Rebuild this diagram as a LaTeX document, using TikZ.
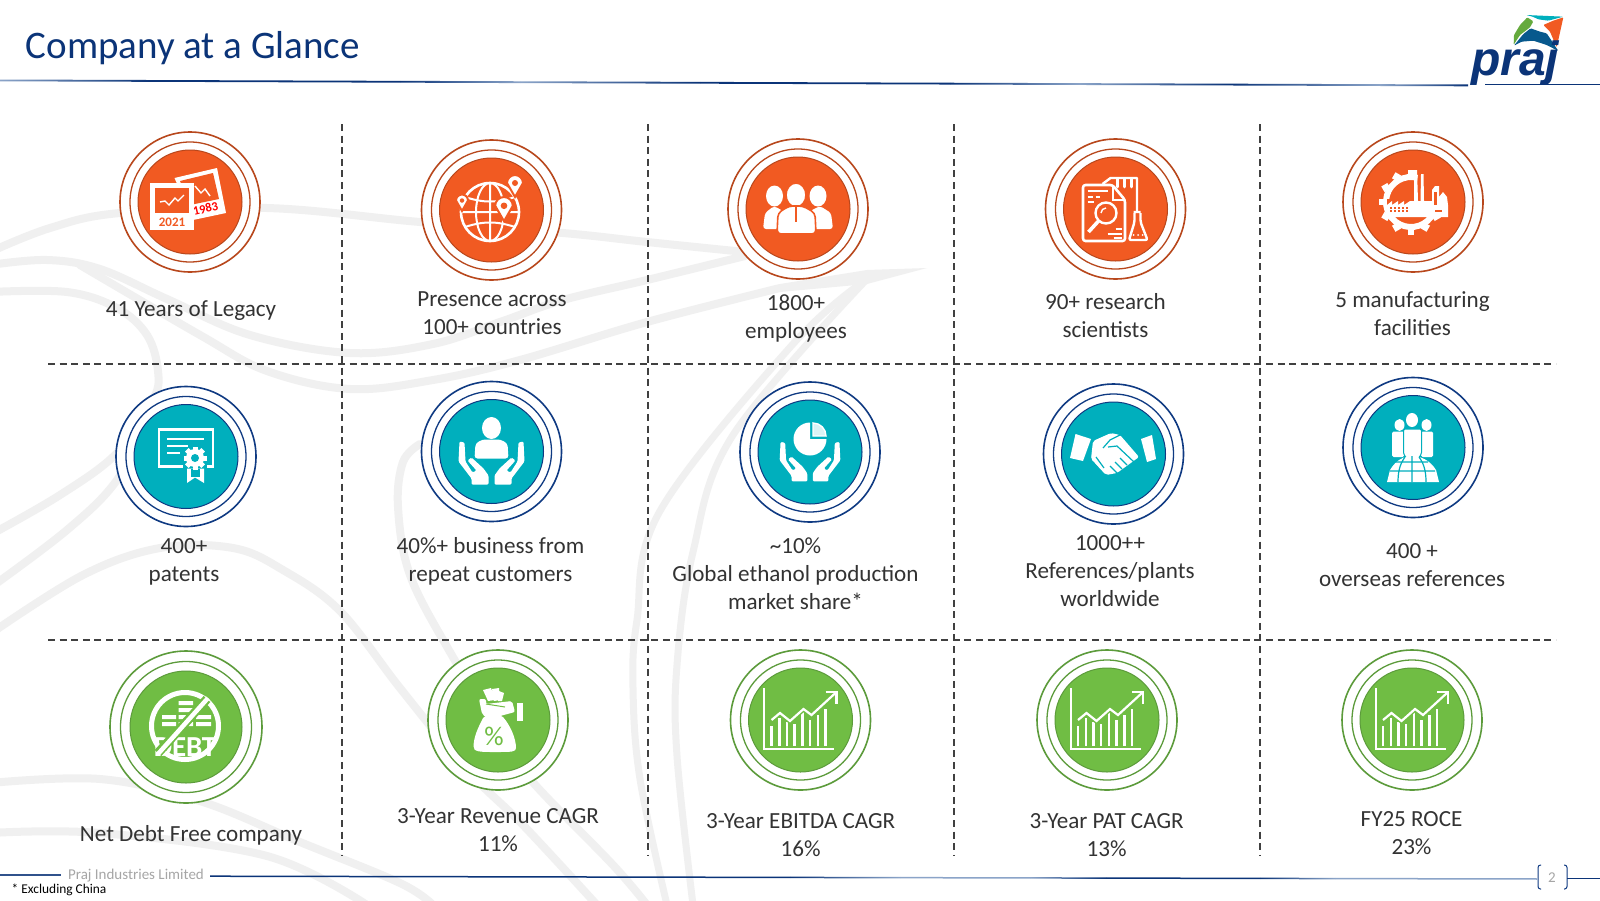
\documentclass[tikz,border=0pt]{standalone}
\usepackage{fontspec}
\setmainfont{Carlito}
\newfontfamily\logofont{Liberation Sans}
\definecolor{orD}{HTML}{F15A22}\definecolor{orL}{HTML}{B8471C}
\definecolor{teD}{HTML}{00AFBD}\definecolor{teL}{HTML}{0F3A82}
\definecolor{grD}{HTML}{70BD44}\definecolor{grL}{HTML}{5C9B3B}
\definecolor{wm}{HTML}{F0F0F0}\definecolor{dashc}{HTML}{404040}
\definecolor{navy}{HTML}{0B3478}\definecolor{lnL}{HTML}{8BA4C8}
\definecolor{txt}{HTML}{333333}\definecolor{gr}{HTML}{A6A6A6}
\tikzset{
  wmline/.style={draw=wm,line width=8pt,line cap=round},
  griddash/.style={draw=dashc,line width=1.5pt,dash pattern=on 7pt off 4.6pt},
  lbl/.style={anchor=base,align=center,text=txt,inner sep=0pt,font=\fontsize{23.1}{27.9}\selectfont},
  ringO/.style={circle,inner sep=0pt,fill=white,line width=1.6pt},
  ringI/.style={circle,inner sep=0pt,line width=1.3pt},
  disc/.style={circle,inner sep=0pt,line width=1pt},
}
\newcommand{\badge}[9]{% name x y R r d fill line body
  \node[ringO,draw=#8,minimum size=#4*2pt] (#1o) at (#2,#3) {};
  \node[ringI,draw=#8,minimum size=#5*2pt] (#1i) at (#2,#3) {};
  \node[disc,draw=#8,fill=#7,minimum size=#6*2pt] (#1d) at (#2,#3) {};#9}
\newcommand{\handR}{\fill[white,rounded corners=1.2pt] (27,-9)--(32,-10)--(33,10)--(20,27)--(20,33)--(3,33)--(3,24)--(8,17)--(20,6)--(24,9)--(15,19)--(19,21)--(26,10)--cycle;}
\newcommand{\charticon}[2]{\begin{scope}[shift={(#1,#2)}]
  \draw[white,line width=2pt] (-36.5,-32)--(-36.5,29)--(33.5,29);
  \foreach \bx/\by in {-29/6,-21/-2,-13.5/2,-6/4,2/-9,9.5/0,17.5/-5,25/-11}{\draw[white,line width=2.4pt] (\bx,26)--(\bx,\by);}
  \draw[grD,line width=5pt] (-29,0)--(-20.5,-7)--(-10.5,1)--(3,-11)--(11,-5)--(35,-27);
  \draw[white,line width=2.2pt] (-29,0)--(-20.5,-7)--(-10.5,1)--(3,-11)--(11,-5)--(36,-28);
  \draw[white,line width=2.2pt] (25,-28)--(36,-28)--(36,-16);
\end{scope}}
\begin{document}
\begin{tikzpicture}[x=1pt,y=-1pt]
\useasboundingbox (0,0) rectangle (1600,900);
\fill[white] (0,0) rectangle (1600,900);
% watermark
\draw[wmline] plot[smooth,tension=.6] coordinates {(-10,252)(50,228)(120,213)(267,208)(420,222)(563,233)(647,242)(745,252)};
\draw[wmline] plot[smooth,tension=.6] coordinates {(-10,265)(47,260)(100,269)(167,299)(250,335)(350,353)(433,344)(500,322)(563,300)(647,280)(745,256)};
\draw[wmline] plot[smooth,tension=.6] coordinates {(-10,292)(67,292)(117,308)(147,335)(158,371)(153,400)(117,453)(60,495)(-10,535)};
\draw[wmline] plot[smooth,tension=.6] coordinates {(150,415)(117,480)(67,530)(-10,588)};
\draw[wmline] plot[smooth,tension=.6] coordinates {(80,265)(200,335)(267,371)(350,389)(433,380)(520,360)(647,322)(780,288)};
\fill[wm] (780,284)--(867,270)--(927,268)--(867,284)--(780,292)--cycle;
\draw[wmline,line width=7pt] plot[smooth,tension=.6] coordinates {(867,279)(793,344)(660,511)(637,620)(633,688)(640,779)(667,905)};
\draw[wmline,line width=7pt] plot[smooth,tension=.6] coordinates {(867,279)(733,435)(693,552)(677,665)(677,756)(693,905)};
\draw[wmline] plot[smooth,tension=.6] coordinates {(-10,634)(83,575)(160,548)(233,548)(283,570)(340,611)(400,688)(467,770)(523,825)(597,905)};
\draw[wmline] plot[smooth,tension=.6] coordinates {(420,444)(403,462)(398,507)(410,575)(450,652)(500,733)(530,779)(613,865)(647,905)};
\draw[wmline] plot[smooth,tension=.6] coordinates {(-10,783)(100,779)(200,801)(300,842)(400,883)(433,905)};
\draw[wmline] plot[smooth,tension=.6] coordinates {(-10,833)(100,833)(267,856)(367,905)};
% header rule
\foreach \xa/\ca/\xb/\cb in {0/lnL/150/navy,150/navy/400/navy,400/navy/520/lnL,520/lnL/700/navy,700/navy/950/navy,950/navy/1080/lnL,1080/lnL/1230/navy,1230/navy/1380/lnL,1380/lnL/1468/navy}{
  \pgfmathsetmacro\ya{79.5+\xa*0.0034}\pgfmathsetmacro\yb{79.5+\xb*0.0034}
  \path[left color=\ca,right color=\cb] (\xa,\ya)--(\xb,\yb)--(\xb,\yb+1.8)--(\xa,\ya+1.8)--cycle;}
\coordinate (hrA) at (1485,84.6);\coordinate (hrB) at (1600,84.6);
\draw[navy,line width=1.6pt] (hrA)--(hrB);
% footer rule
\foreach \xa/\ca/\xb/\cb in {210/navy/790/navy,790/navy/900/lnL,900/lnL/1030/lnL,1030/lnL/1106/navy,1106/navy/1260/navy,1260/navy/1335/lnL,1335/lnL/1537/lnL}{
  \pgfmathsetmacro\ya{875+\xa*0.0021}\pgfmathsetmacro\yb{875+\xb*0.0021}
  \path[left color=\ca,right color=\cb] (\xa,\ya)--(\xb,\yb)--(\xb,\yb+1.5)--(\xa,\ya+1.5)--cycle;}
\coordinate (frA) at (0,875);\coordinate (frB) at (61,875);\coordinate (frC) at (1567,878.4);\coordinate (frD) at (1600,878.4);
\draw[navy!85,line width=1.2pt] (frA)--(frB);
\draw[navy,line width=1.2pt] (frC)--(frD);
% grid
\foreach \gx/\gn in {342/a,648/b,954/c,1260/d}{\coordinate (v\gn t) at (\gx,124);\coordinate (v\gn b) at (\gx,856);\draw[griddash] (v\gn t)--(v\gn b);}
\foreach \gy/\gn in {364/a,640/b}{\coordinate (h\gn l) at (48,\gy);\coordinate (h\gn r) at (1556,\gy);\draw[griddash] (h\gn l)--(h\gn r);}
% title
\node[anchor=base west,inner sep=0pt,text=navy,font=\fontsize{39}{44}\selectfont] (title) at (25.5,58) {Company at a Glance};
% logo
\begin{scope}[shift={(1440,0)},x=0.3333pt,y=-0.3333pt]
\fill[teD,rounded corners=1pt] (258,45)--(370,50)--(325,62)--(295,58)--(278,50)--cycle;
\fill[grD!90!black,rounded corners=1pt] (262,52)--(280,64)--(270,82)--(240,105)--(221,134)--(222,105)--(240,75)--cycle;
\fill[navy!70!teD,rounded corners=1pt] (222,137)--(250,102)--(272,85)--(300,95)--(320,100)--(340,130)--(355,153)--(320,135)--(280,122)--(245,125)--cycle;
\fill[orD,rounded corners=1pt] (370,52)--(350,142)--(330,95)--(310,75)--(340,62)--cycle;
\end{scope}
\node[anchor=base west,inner sep=0pt,text=navy,font=\logofont\fontsize{48}{52}\bfseries\itshape\selectfont] (logo) at (1471,75) {praj};
% footer text
\node[anchor=base,inner sep=0pt,text=gr,font=\fontsize{15}{16}\selectfont] (ftco) at (136,879.5) {Praj Industries Limited};
\node[anchor=base west,inner sep=0pt,text=black,font=\fontsize{13.4}{15}\selectfont] (ftnote) at (11.5,893) {* Excluding China};
\node[inner sep=0pt,text=gr,font=\fontsize{15}{16}\selectfont] (pg) at (1552,877.5) {2};
\draw[teL,line width=1pt,rounded corners=2.5pt] (1541,865)--(1538,865)--(1538,889)--(1541,889);
\draw[teL,line width=1pt,rounded corners=2.5pt] (1564,865)--(1567,865)--(1567,889)--(1564,889);
% row 1
\badge{a}{190}{202}{70}{60}{52}{orD}{orL}{
 \fill[white] (174.5,178)--(217,168)--(226,213)--(193,220)--cycle;
 \fill[orD] (180,181)--(213,173)--(219,199)--(190,205)--cycle;
 \draw[white,line width=1.4pt] (195,186)--(201,193)--(205,189)--(210,196);
 \node[inner sep=0pt,text=red,rotate=13,font=\fontsize{12.5}{13}\bfseries\selectfont] (a83) at (205.5,208.5) {1983};
 \fill[white] (149.5,183) rectangle (194,230);
 \fill[orD] (154.6,188) rectangle (189,213);
 \draw[white,line width=1.4pt] (160,202)--(165,201)--(169,205)--(175,198)--(178,201)--(184,195);
 \node[inner sep=0pt,text=orD,font=\fontsize{13}{14}\bfseries\selectfont] (a21) at (172,222) {2021};}
\badge{b}{491.5}{210}{70}{60}{52}{orD}{orL}{
 \begin{scope}[shift={(490,212)}]
 \draw[white,line width=2.6pt] (0,0) circle (29);
 \draw[white,line width=2pt] (0,0) ellipse (14 and 29) (0,-29)--(0,29) (-29,0)--(29,0);
 \draw[white,line width=2pt] (-25,-15) to[bend right=18] (25,-15) (-25,15) to[bend left=18] (25,15);
 \end{scope}
 \foreach \px/\py/\ps in {515/185/1,462/202/.75,504/208/1.1}{\begin{scope}[shift={(\px,\py)},scale=\ps]
   \draw[orD,line width=2pt,fill=white] (-8,-2) arc[start angle=180,end angle=360,radius=8] -- (0,12) -- cycle;
   \fill[orD] (0,-2) circle (3);
 \end{scope}}}
\badge{c}{798}{209}{70}{60}{52}{orD}{orL}{
 \begin{scope}[shift={(798,209)}]
 \fill[white] (-23.5,-13) ellipse (8.5 and 10.5);
 \fill[white,rounded corners=3pt] (-35,20)--(-33,4)--(-24,-3)--(-15,2)--(-15,20)--cycle;
 \fill[white] (20,-13) ellipse (8.5 and 10.5);
 \fill[white,rounded corners=3pt] (35,20)--(33,4)--(22,-3)--(12,2)--(12,20)--cycle;
 \path[fill=white,draw=orD,line width=1.6pt] (-2,-14) ellipse (10 and 12);
 \path[fill=white,draw=orD,line width=1.6pt,rounded corners=4pt] (-21,25)--(-20,4)--(-9,-3)--(5,-3)--(17,4)--(18,25)--cycle;
 \draw[orD,line width=1.2pt] (-2,-2)--(-2,13);
 \end{scope}}
\badge{d}{1115.5}{209}{70}{60}{52}{orD}{orL}{
 \begin{scope}[shift={(1115.5,209)}]
 \draw[white,line width=2.6pt,rounded corners=2.5pt,line join=round] (-32.5,-24)--(-3,-24)--(9.5,-9)--(9.5,32)--(-32.5,32)--cycle;
 \draw[white,line width=2pt] (-3,-24)--(-3,-9)--(9.5,-9);
 \draw[white,line width=1.5pt] (-28,-18)--(-8,-18) (-28,-12)--(-23,-12) (-20,-12)--(-16,-12) (-28,-7)--(-22,-7);
 \draw[white,line width=2.4pt] (-9.5,4) circle (10.5);
 \draw[white,line width=1.4pt] (-14.5,4) arc[start angle=180,end angle=270,radius=5];
 \draw[white,line width=3.6pt] (-17,12)--(-27,23);
 \draw[white,line width=1.5pt] (-8,25)--(6,25) (0,20)--(6,20) (-2,29)--(6,29);
 \draw[white,line width=2.4pt,line join=round] (-13,-25)--(-5,-31)--(21.5,-31)--(21.5,2);
 \draw[white,line width=2.6pt,line cap=round] (2,-30)--(2,-22) (9,-30)--(9,-22) (16,-30)--(16,-22);
 \draw[white,line width=2.4pt,line join=round,rounded corners=2pt] (18,3)--(25,3) (19,4)--(19,13)--(13.5,31)--(32,31)--(25,13)--(25,4);
 \foreach \dd in {18,22.5,27}{\fill[white] (\dd,26) circle (1);}
 \end{scope}}
\badge{e}{1413}{202}{70}{60}{52}{orD}{orL}{
 \begin{scope}[shift={(1411,202)}]
 \draw[white,line width=6pt] (15:25) arc[start angle=15,end angle=285,radius=25];
 \foreach \a in {30,60,90,120,150,180,210,240,270}{\fill[white,shift={(\a:29)},rotate=\a] (-3.5,-3.2) rectangle (3.5,3.2);}
 \fill[orD] (-24,-3) rectangle (36,10);
 \fill[white] (-24,13)--(-24,3)--(-19,-1)--(-19,3)--(-13,-1)--(-13,3)--(-7,-1)--(-7,3)--(-1,-1)--(3,-1)--(3,-32)--(6,-32)--(7,-1)--(9.5,-1)--(10,-28)--(12.5,-28)--(13,-1)--(21,-1)--(21,-12)--(24,-16)--(28,-16)--(28,-5)--(32,-10)--(36,-5)--(37,3)--(37,15)--(-24,15)--cycle;
 \foreach \dx in {-21,-17,-13,-9,-5}{\fill[orD] (\dx,4.5) rectangle +(2.4,2.4);\fill[orD] (\dx,8) rectangle +(2.4,2);}
 \fill[orD] (22.5,-10) rectangle (26,3);
 \fill[orD] (24,8) rectangle (31,10);
 \end{scope}}
% row 2
\badge{f}{186}{456.5}{70}{60}{52}{teD}{teL}{
 \begin{scope}[shift={(186,456.5)}]
 \draw[white,line width=2.4pt] (-27,-27) rectangle (27,10);
 \draw[white,line width=2.2pt] (-19,-17.5)--(18,-17.5) (-19,-10.5)--(2,-10.5) (-19,-3.5)--(-6,-3.5);
 \fill[teD] (-3,-4) rectangle (21,16);
 \path[fill=white] (1,12)--(1,26.5)--(9,21)--(18,26.5)--(18,12)--cycle;
 \fill[teD] (5,12) rectangle (14,20);
 \foreach \a in {0,45,...,315}{\fill[white,shift={(9,1.5)},rotate=\a] (-2.5,-11.5) rectangle (2.5,-6);}
 \fill[white] (9,1.5) circle (9);
 \fill[teD] (9,1.5) circle (4);
 \end{scope}}
\badge{g}{491.5}{451.5}{70}{60}{52}{teD}{teL}{
 \begin{scope}[shift={(491.5,451.5)}]
 \fill[white] (0,-23.5) ellipse (9.5 and 11);
 \fill[white,rounded corners=3pt] (-17,7)--(-16,-8)--(-9,-12)--(9,-12)--(16,-8)--(17,7)--cycle;
 \handR
 \begin{scope}[xscale=-1]\handR\end{scope}
 \end{scope}}
\badge{h}{810}{452}{70}{60}{52}{teD}{teL}{
 \begin{scope}[shift={(810,452)}]
 \fill[white] (0,-13)--(16.5,-13) arc[start angle=0,end angle=270,radius=16.5]--cycle;
 \path[fill=white!85!teD,draw=white,line width=1.4pt] (3,-16)--(3,-29) arc[start angle=270,end angle=360,radius=13]--cycle;
 \begin{scope}[scale=.92,shift={(0,-1)}]\handR\begin{scope}[xscale=-1]\handR\end{scope}\end{scope}
 \end{scope}}
\badge{i}{1113.5}{454}{70}{60}{52}{teD}{teL}{
 \fill[white] (1075.5,434)--(1091,439)--(1083,461)--(1070,458)--cycle;
 \fill[white] (1141,439)--(1152,435)--(1156,459)--(1147,462)--cycle;
 \fill[white,rounded corners=2pt] (1093,441)--(1111,433)--(1120,435)--(1139,457)--(1117,473)--(1106,475)--(1091,459)--cycle;
 \draw[teD,line width=1.2pt] (1120,435)--(1110,440)--(1103,448) (1108,447)--(1117,446)--(1134,462) (1110,466)--(1117,473) (1115,462)--(1122,469) (1120,458)--(1127,465) (1096,457)--(1104,468) (1093,462)--(1100,471);
}
\badge{j}{1413}{447.5}{70}{60}{52}{teD}{teL}{
 \fill[white] (1399.5,425) ellipse (5 and 6) (1426.5,425) ellipse (5 and 6) (1412,420) ellipse (6 and 7);
 \fill[white,rounded corners=1.5pt] (1392,457) rectangle (1404,431.5);
 \fill[white,rounded corners=1.5pt] (1421,457) rectangle (1433,431.5);
 \path[fill=white,draw=teD,line width=1pt,rounded corners=1.5pt] (1403.5,429)--(1421.5,429)--(1421.5,454)--(1417,460)--(1408,460)--(1403.5,454)--cycle;
 \fill[white] (1387,482)--(1390,470) .. controls (1396,460) and (1404,456) .. (1412,456) .. controls (1420,456) and (1430,460) .. (1436,470)--(1439,482)--cycle;
 \draw[teD,line width=1.2pt] (1412,456)--(1412,482) (1390,471)--(1435,471) (1396,462)--(1428,462) (1405,457) .. controls (1399,465) and (1398,474) .. (1398,482) (1419,457) .. controls (1425,465) and (1426,474) .. (1426,482);
}
% row 3
\badge{k}{186}{727}{76}{65.5}{56}{grD}{grL}{
 \begin{scope}[shift={(185,726)}]
 \draw[white,line width=5pt] (0,0) circle (33.5);
 \fill[white] (-6.5,-25) rectangle (8,-21) (-6.5,-18) rectangle (8,-14) (-6.5,-11) rectangle (8,-7) (-6.5,-4) rectangle (8,0) (-23,-11) rectangle (-9,-7) (-23,-4) rectangle (-9,0) (11,-11) rectangle (26,-7) (11,-4) rectangle (26,0);
 \node[inner sep=0pt,text=white,font=\fontsize{29}{30}\bfseries\selectfont] (kdebt) at (0,21) {DEBT};
 \draw[grD,line width=9pt] (22,-27)--(-27,27);
 \draw[white,line width=4.5pt] (23,-28)--(-27,28);
 \end{scope}}
\badge{l}{498}{720}{70}{60}{52}{grD}{grL}{
 \fill[white] (483,690)--(491,688)--(495,700)--(488,701)--cycle (492,689)--(499,688)--(500,700)--(494,701)--cycle (499,691)--(504,693)--(502,701)--(498,701)--cycle;
 \fill[white,rounded corners=2pt] (479,699)--(486,699)--(486,704)--(512,701)--(515,712)--(500,716)--(492,722)--(482,714)--cycle;
 \fill[white] (517,703) rectangle (523,721);
 \draw[grD,line width=1pt] (486,704)--(505,707);
 \path[fill=white] (483,718) .. controls (487,714) and (498,714) .. (503,717) .. controls (510,725) and (516,738) .. (516,748) .. controls (516,752) and (512,752) .. (495,752) .. controls (480,752) and (473,752) .. (473.5,746) .. controls (474,736) and (478,728) .. (483,718)--cycle;
 \node[inner sep=0pt,text=grD,font=\fontsize{27}{28}\selectfont] (lpct) at (494,736) {\%};}
\badge{m}{800.5}{720}{70}{60}{52}{grD}{grL}{\charticon{800.5}{720}}
\badge{n}{1107}{720}{70}{60}{52}{grD}{grL}{\charticon{1107}{720}}
\badge{o}{1412}{720}{70}{60}{52}{grD}{grL}{\charticon{1412}{720}}
% labels (y = baseline of the last line)
\node[lbl] (la) at (191,316) {41 Years of Legacy};
\node[lbl] (lb) at (492,334.3) {Presence across\\100+ countries};
\node[lbl] (lc) at (796,338.5) {1800+\\employees};
\node[lbl] (ld) at (1105.5,337.7) {90+ research\\scientists};
\node[lbl] (le) at (1412.5,335.5) {5 manufacturing\\facilities};
\node[lbl] (lf) at (184,581.5) {400+\\patents};
\node[lbl] (lg) at (490.5,581.5) {40\%+ business from\\repeat customers};
\node[lbl] (lh) at (795.5,609.2) {\textasciitilde 10\%\\Global ethanol production\\market share*};
\node[lbl] (li) at (1110,606) {1000++\\References/plants\\worldwide};
\node[lbl] (lj) at (1412,586) {400 +\\overseas references};
\node[lbl] (lk) at (191,841) {Net Debt Free company};
\node[lbl] (ll) at (498,851) {3-Year Revenue CAGR\\11\%};
\node[lbl] (lm) at (800.7,856.6) {3-Year EBITDA CAGR\\16\%};
\node[lbl] (ln) at (1106.6,856) {3-Year PAT CAGR\\13\%};
\node[lbl] (lo) at (1411.5,854) {FY25 ROCE\\23\%};
\end{tikzpicture}
\end{document}
